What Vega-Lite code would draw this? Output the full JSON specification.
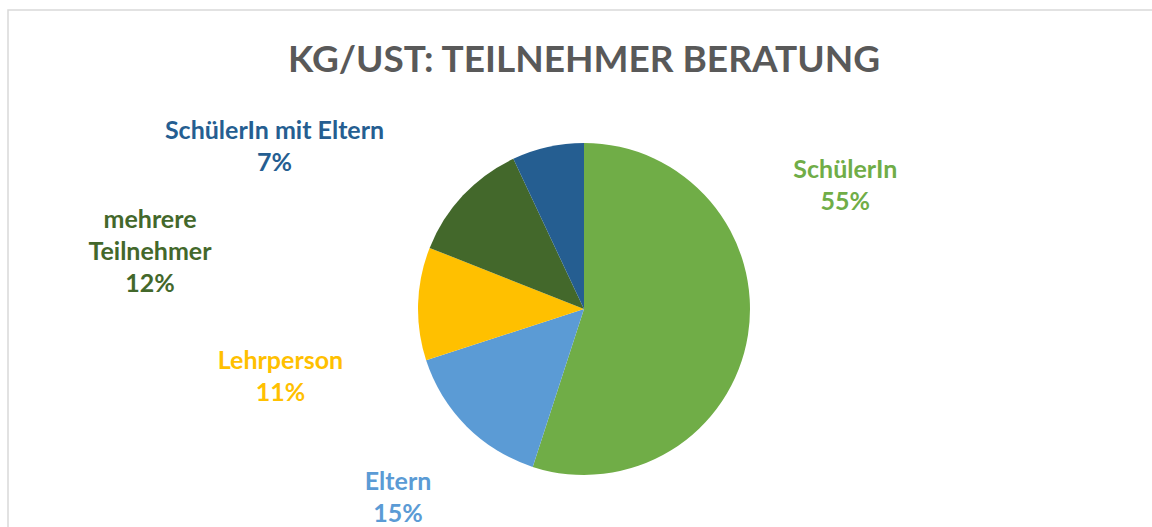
{
  "$schema": "https://vega.github.io/schema/vega-lite/v6.json",
  "autosize": {"type": "none"},
  "width": 1152,
  "height": 598,
  "padding": {"left": 8, "top": 10, "right": 0, "bottom": 0},
  "background": "white",
  "config": {"view": {"stroke": null}},
  "title": {
    "text": "KG/UST: TEILNEHMER BERATUNG",
    "anchor": "middle",
    "frame": "group",
    "orient": "top",
    "offset": -100,
    "baseline": "alphabetic",
    "font": "Lato",
    "fontSize": 37,
    "fontWeight": "bold",
    "color": "#595959"
  },
  "data": {
    "values": [
      {"cat": "SchülerIn", "value": 55, "ord": 1},
      {"cat": "Eltern", "value": 15, "ord": 2},
      {"cat": "Lehrperson", "value": 11, "ord": 3},
      {"cat": "mehrere Teilnehmer", "value": 12, "ord": 4},
      {"cat": "SchülerIn mit Eltern", "value": 7, "ord": 5}
    ]
  },
  "transform": [
    {"stack": "value", "groupby": [], "sort": [{"field": "ord", "order": "ascending"}], "as": ["v0", "v1"]},
    {"calculate": "(datum.v0 + datum.v1) / 2", "as": "mid"},
    {"calculate": "(datum.cat === 'mehrere Teilnehmer' ? 'mehrere\\nTeilnehmer' : datum.cat) + '\\n' + datum.value + '%'", "as": "txt"}
  ],
  "layer": [
    {
      "data": {"values": [{"frame": 1}]},
      "transform": [],
      "mark": {"type": "rect", "fill": "white", "stroke": "#d9d9d9", "strokeWidth": 1.5},
      "encoding": {}
    },
    {
      "mark": {"type": "arc", "radius": 166},
      "encoding": {
        "theta": {"field": "v0", "type": "quantitative", "stack": null, "scale": {"domain": [0, 100]}},
        "theta2": {"field": "v1"},
        "color": {
          "field": "cat",
          "type": "nominal",
          "scale": {
            "domain": ["SchülerIn", "Eltern", "Lehrperson", "mehrere Teilnehmer", "SchülerIn mit Eltern"],
            "range": ["#70AD47", "#5B9BD5", "#FFC000", "#43682B", "#255E91"]
          },
          "legend": null
        }
      }
    },
    {
      "transform": [{"filter": "datum.cat === 'SchülerIn'"}],
      "mark": {"type": "text", "radius": 296, "thetaOffset": -0.646, "font": "Lato", "fontSize": 25, "fontWeight": "bold", "color": "#70AD47", "lineBreak": "\n", "lineHeight": 32, "align": "center", "baseline": "middle"},
      "encoding": {
        "theta": {"field": "mid", "type": "quantitative", "stack": null, "scale": {"domain": [0, 100]}},
        "text": {"field": "txt"}
      }
    },
    {
      "transform": [{"filter": "datum.cat === 'Eltern'"}],
      "mark": {"type": "text", "radius": 254, "thetaOffset": 0.036, "font": "Lato", "fontSize": 25, "fontWeight": "bold", "color": "#5B9BD5", "lineBreak": "\n", "lineHeight": 32, "align": "center", "baseline": "middle"},
      "encoding": {
        "theta": {"field": "mid", "type": "quantitative", "stack": null, "scale": {"domain": [0, 100]}},
        "text": {"field": "txt"}
      }
    },
    {
      "transform": [{"filter": "datum.cat === 'Lehrperson'"}],
      "mark": {"type": "text", "radius": 308, "thetaOffset": -0.201, "font": "Lato", "fontSize": 25, "fontWeight": "bold", "color": "#FFC000", "lineBreak": "\n", "lineHeight": 32, "align": "center", "baseline": "middle"},
      "encoding": {
        "theta": {"field": "mid", "type": "quantitative", "stack": null, "scale": {"domain": [0, 100]}},
        "text": {"field": "txt"}
      }
    },
    {
      "transform": [{"filter": "datum.cat === 'mehrere Teilnehmer'"}],
      "mark": {"type": "text", "radius": 443, "thetaOffset": -0.552, "font": "Lato", "fontSize": 25, "fontWeight": "bold", "color": "#43682B", "lineBreak": "\n", "lineHeight": 32, "align": "center", "baseline": "middle"},
      "encoding": {
        "theta": {"field": "mid", "type": "quantitative", "stack": null, "scale": {"domain": [0, 100]}},
        "text": {"field": "txt"}
      }
    },
    {
      "transform": [{"filter": "datum.cat === 'SchülerIn mit Eltern'"}],
      "mark": {"type": "text", "radius": 357, "thetaOffset": -0.829, "font": "Lato", "fontSize": 25, "fontWeight": "bold", "color": "#255E91", "lineBreak": "\n", "lineHeight": 32, "align": "center", "baseline": "middle"},
      "encoding": {
        "theta": {"field": "mid", "type": "quantitative", "stack": null, "scale": {"domain": [0, 100]}},
        "text": {"field": "txt"}
      }
    }
  ]
}
